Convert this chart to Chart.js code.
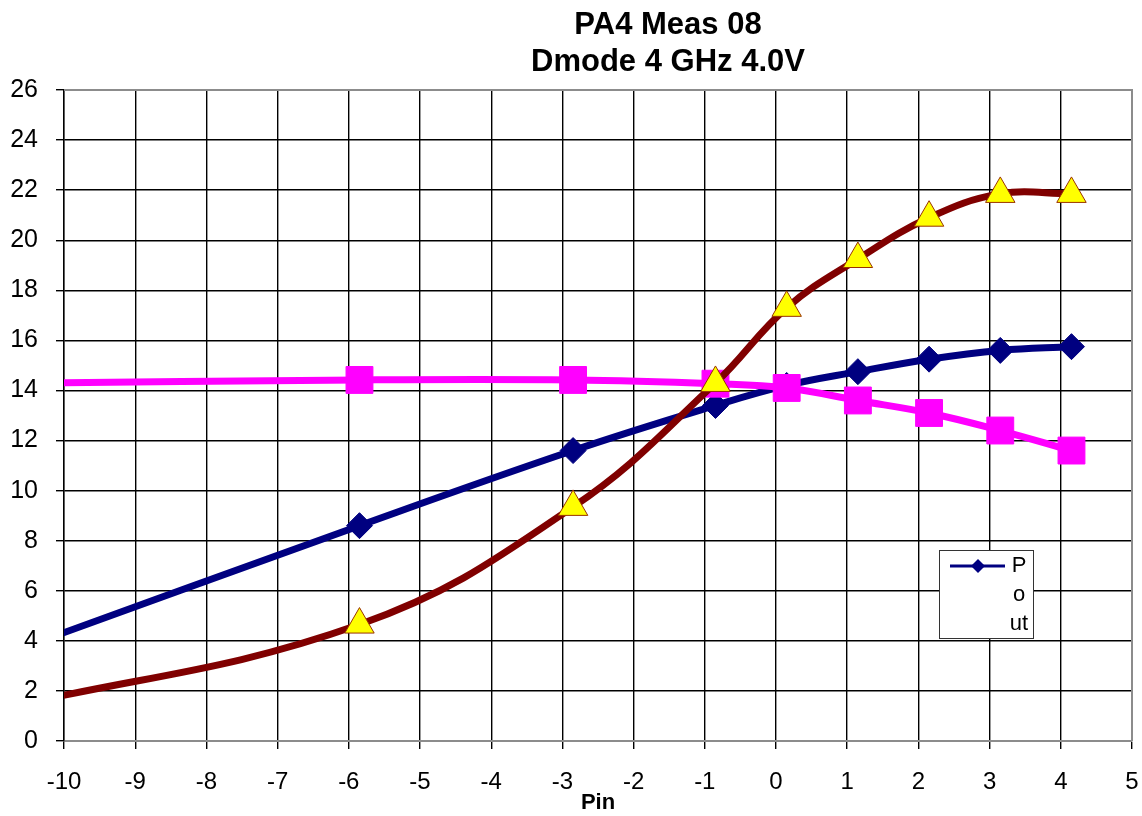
<!DOCTYPE html>
<html>
<head>
<meta charset="utf-8">
<title>PA4 Meas 08</title>
<script src="https://cdn.jsdelivr.net/npm/chart.js"></script>
<style>
  html, body { margin: 0; padding: 0; background: #fff; overflow: hidden; }
  canvas { display: block; }
</style>
</head>
<body>
<canvas id="paChart" width="1142" height="816"></canvas>
<script>
// sweep of input power (dBm); first sample sits left of the visible axis
const pin = [-10.85, -5.85, -2.85, -0.85, 0.15, 1.15, 2.15, 3.15, 4.15];
const pout = [3.45, 8.6, 11.6, 13.4, 14.2, 14.75, 15.25, 15.6, 15.75];
const gain = [14.28, 14.42, 14.42, 14.27, 14.1, 13.6, 13.1, 12.4, 11.6];
const pae = [1.3, 4.65, 9.35, 14.3, 17.3, 19.25, 20.9, 21.85, 21.85];

const xTicks = [-10, -9, -8, -7, -6, -5, -4, -3, -2, -1, 0, 1, 2, 3, 4, 5];
const yTicks = [0, 2, 4, 6, 8, 10, 12, 14, 16, 18, 20, 22, 24, 26];
const titleLines = ['PA4 Meas 08', 'Dmode 4 GHz 4.0V'];
const legendText = ['P', 'o', 'ut'];

const FONT = "'Liberation Sans', Arial, sans-serif";

function pts(ys) {
  return ys.map((y, i) => ({ x: pin[i], y: y }));
}

// gray frame on the top and right edges of the plot
const frame = {
  id: 'frame',
  beforeDatasetsDraw(chart) {
    const { ctx, chartArea: a } = chart;
    ctx.save();
    ctx.strokeStyle = '#8c8c8c';
    ctx.lineWidth = 2;
    ctx.beginPath();
    ctx.moveTo(a.left, a.top);
    ctx.lineTo(a.right, a.top);
    ctx.lineTo(a.right, a.bottom);
    ctx.stroke();
    ctx.restore();
  }
};

// two-line bold heading
const heading = {
  id: 'heading',
  afterDraw(chart) {
    const ctx = chart.ctx;
    ctx.save();
    ctx.fillStyle = '#000';
    ctx.font = 'bold 31px ' + FONT;
    ctx.textAlign = 'center';
    ctx.textBaseline = 'middle';
    titleLines.forEach((t, i) => ctx.fillText(t, 668, 25 + i * 37));
    ctx.restore();
  }
};

// small boxed legend inside the plot, text wrapped one piece per line
const boxLegend = {
  id: 'boxLegend',
  afterDatasetsDraw(chart) {
    const { ctx, chartArea: a } = chart;
    const ds = chart.data.datasets[2];
    const left = a.right - 193, top = a.top + 460, w = 94, h = 88;
    ctx.save();
    ctx.fillStyle = '#fff';
    ctx.fillRect(left, top, w, h);
    ctx.strokeStyle = '#333';
    ctx.lineWidth = 1;
    ctx.strokeRect(left + 0.5, top + 0.5, w, h);
    const ly = top + 16;
    ctx.strokeStyle = ds.borderColor;
    ctx.lineWidth = 3;
    ctx.beginPath();
    ctx.moveTo(left + 11, ly);
    ctx.lineTo(left + 66, ly);
    ctx.stroke();
    ctx.fillStyle = ds.borderColor;
    ctx.beginPath();
    ctx.moveTo(left + 39, ly - 7);
    ctx.lineTo(left + 46, ly);
    ctx.lineTo(left + 39, ly + 7);
    ctx.lineTo(left + 32, ly);
    ctx.closePath();
    ctx.fill();
    ctx.fillStyle = '#000';
    ctx.font = '22px ' + FONT;
    ctx.textAlign = 'center';
    ctx.textBaseline = 'middle';
    legendText.forEach((t, i) => ctx.fillText(t, left + 80, ly + i * 29));
    ctx.restore();
  }
};

new Chart(document.getElementById('paChart').getContext('2d'), {
  type: 'line',
  data: {
    datasets: [
      {
        label: 'PAE',
        data: pts(pae),
        borderColor: '#800000',
        borderWidth: 7,
        tension: 0.4,
        pointStyle: 'triangle',
        pointRadius: 17,
        pointBackgroundColor: '#ffff00',
        pointBorderColor: '#993300',
        pointBorderWidth: 1,
        clip: 0
      },
      {
        label: 'Gain',
        data: pts(gain),
        borderColor: '#ff00ff',
        borderWidth: 7,
        tension: 0.4,
        pointStyle: 'rect',
        pointRadius: 19,
        pointBackgroundColor: '#ff00ff',
        pointBorderColor: '#ff00ff',
        pointBorderWidth: 1,
        clip: 0
      },
      {
        label: 'Pout',
        data: pts(pout),
        borderColor: '#000080',
        borderWidth: 7,
        tension: 0.4,
        pointStyle: 'rectRot',
        pointRadius: 13,
        pointBackgroundColor: '#000080',
        pointBorderColor: '#000080',
        pointBorderWidth: 1,
        clip: 0
      }
    ]
  },
  options: {
    responsive: false,
    animation: false,
    layout: { autoPadding: false, padding: { top: 90, right: 10, left: 0, bottom: 0 } },
    plugins: {
      legend: { display: false },
      title: { display: false },
      tooltip: { enabled: false }
    },
    scales: {
      x: {
        type: 'linear',
        min: -10,
        max: 5,
        afterBuildTicks: s => { s.ticks = xTicks.map(v => ({ value: v })); },
        afterFit: s => { s.height = 75; s.paddingLeft = 0; s.paddingRight = 0; },
        grid: { color: '#000', lineWidth: 1.4, tickLength: 8, drawTicks: true },
        border: { color: '#8c8c8c', width: 2 },
        ticks: {
          color: '#000',
          font: { family: FONT, size: 24 },
          padding: 19,
          maxRotation: 0,
          autoSkip: false
        },
        title: {
          display: true,
          text: 'Pin',
          color: '#000',
          font: { family: FONT, size: 22, weight: 'bold' },
          padding: { top: 0, bottom: 0 }
        }
      },
      y: {
        type: 'linear',
        min: 0,
        max: 26,
        afterBuildTicks: s => { s.ticks = yTicks.map(v => ({ value: v })); },
        afterFit: s => { s.width = 64; s.paddingTop = 0; s.paddingBottom = 0; },
        grid: { color: '#000', lineWidth: 1.4, tickLength: 8, drawTicks: true },
        border: { color: '#000', width: 1.4 },
        ticks: {
          color: '#000',
          font: { family: FONT, size: 25 },
          padding: 18,
          autoSkip: false
        }
      }
    }
  },
  plugins: [frame, heading, boxLegend]
});
</script>
</body>
</html>
